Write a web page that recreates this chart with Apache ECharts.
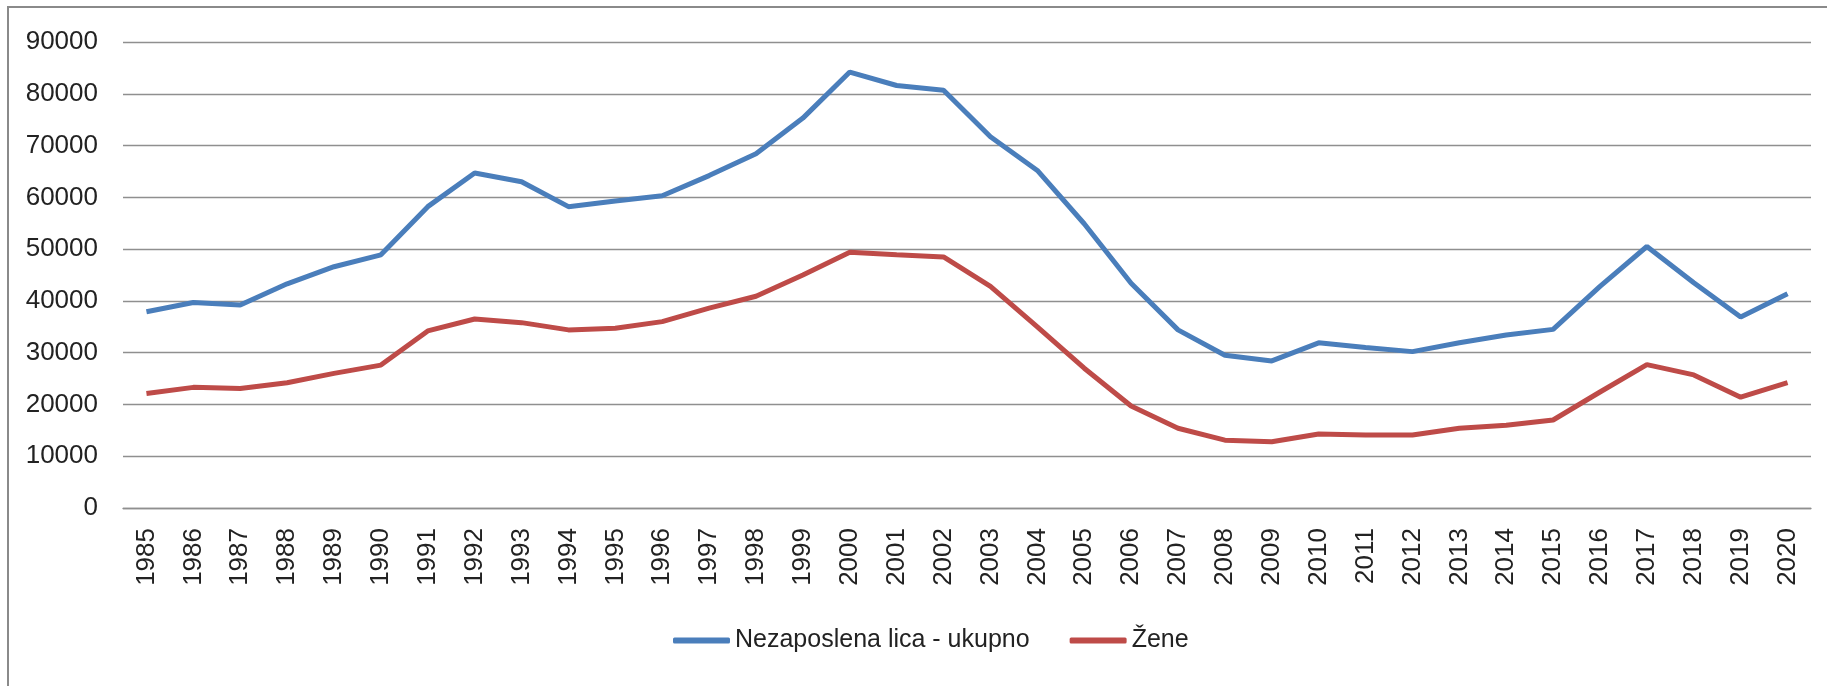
<!DOCTYPE html>
<html>
<head>
<meta charset="utf-8">
<script src="https://cdn.jsdelivr.net/npm/echarts@6/dist/echarts.min.js"></script>
<style>
  html, body { margin: 0; padding: 0; background: #fff; }
  #frame { position: absolute; left: 7px; top: 6px; width: 1840px; height: 700px;
           border-left: 2px solid #8a8a8a; border-top: 2px solid #8a8a8a; box-sizing: border-box; }
  #chart { position: absolute; left: 0; top: 0; width: 1827px; height: 686px; }
</style>
</head>
<body>
<div id="frame"></div>
<div id="chart"></div>
<script>
const years = ['1985','1986','1987','1988','1989','1990','1991','1992','1993','1994','1995','1996',
  '1997','1998','1999','2000','2001','2002','2003','2004','2005','2006','2007','2008','2009','2010',
  '2011','2012','2013','2014','2015','2016','2017','2018','2019','2020'];
const totalUnemployed = [37900, 39700, 39200, 43300, 46600, 48900, 58200, 64700, 63000, 58200, 59300, 60300,
  64200, 68400, 75300, 84200, 81600, 80700, 71700, 65200, 54900, 43400, 34400, 29500, 28400, 31900,
  31000, 30200, 31900, 33400, 34500, 42800, 50500, 43500, 36900, 41400];
const women = [22100, 23300, 23100, 24200, 26000, 27600, 34200, 36500, 35800, 34400, 34700, 36000,
  38600, 40900, 45000, 49400, 48900, 48500, 42800, 35000, 27000, 19700, 15400, 13100, 12800, 14300,
  14100, 14100, 15400, 16000, 17000, 22400, 27700, 25700, 21400, 24200];
const seriesNames = ['Nezaposlena lica - ukupno', 'Žene'];
const yTicks = { min: 0, max: 90000, interval: 10000 };

const FONT = '"Liberation Sans", Arial, sans-serif';
const chart = echarts.init(document.getElementById('chart'), null, { renderer: 'canvas' });
chart.setOption({
  animation: false,
  backgroundColor: 'transparent',
  grid: { left: 123, right: 16, top: 42, bottom: 178 },
  legend: {
    left: 673, top: 628, padding: 0,
    itemWidth: 57, itemHeight: 6, itemGap: 40,
    icon: 'roundRect',
    textStyle: { fontFamily: FONT, fontSize: 25, color: '#222' },
    data: seriesNames
  },
  xAxis: {
    type: 'category', data: years, boundaryGap: true,
    axisLine: { show: true, lineStyle: { color: '#8f8f8f', width: 1.3 } },
    axisTick: { show: false },
    axisLabel: { rotate: 90, margin: 20, fontFamily: FONT, fontSize: 26, color: '#222', interval: 0 }
  },
  yAxis: {
    type: 'value', min: yTicks.min, max: yTicks.max, interval: yTicks.interval,
    axisLine: { show: false }, axisTick: { show: false },
    splitLine: { lineStyle: { color: '#8f8f8f', width: 1.3 } },
    axisLabel: { margin: 25, fontFamily: FONT, fontSize: 26, color: '#222',
      formatter: function (v) { return String(v); } }
  },
  series: [
    { name: seriesNames[0], type: 'line', data: totalUnemployed, symbol: 'none',
      lineStyle: { color: '#4A7EBB', width: 5 }, itemStyle: { color: '#4A7EBB' } },
    { name: seriesNames[1], type: 'line', data: women, symbol: 'none',
      lineStyle: { color: '#BE4B48', width: 5 }, itemStyle: { color: '#BE4B48' } }
  ]
});
</script>
</body>
</html>
